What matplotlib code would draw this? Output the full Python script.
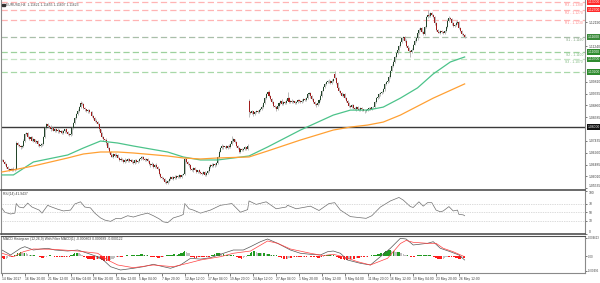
import numpy as np
import matplotlib.pyplot as plt
from matplotlib.patches import Rectangle

plt.rcParams['font.family'] = ['Liberation Sans', 'DejaVu Sans']

# EURUSD H4 closes, one per bar (14 Mar - 29 May 2017)
close = [
    1.0665, 1.0660, 1.0650, 1.0640, 1.0632, 1.0628, 1.0630, 1.0626, 1.0632, 1.0628,
    1.0735, 1.0728, 1.0722, 1.0718, 1.0725, 1.0745, 1.0770, 1.0775, 1.0760, 1.0752,
    1.0758, 1.0745, 1.0750, 1.0738, 1.0742, 1.0730, 1.0725, 1.0728, 1.0732, 1.0760,
    1.0795, 1.0810, 1.0805, 1.0800, 1.0790, 1.0795, 1.0785, 1.0792, 1.0782, 1.0788,
    1.0780, 1.0784, 1.0776, 1.0782, 1.0790, 1.0778, 1.0772, 1.0768, 1.0772, 1.0795,
    1.0815, 1.0835, 1.0850, 1.0865, 1.0880, 1.0895, 1.0890, 1.0875, 1.0870, 1.0862,
    1.0866, 1.0858, 1.0860, 1.0845, 1.0835, 1.0825, 1.0818, 1.0812, 1.0790, 1.0775,
    1.0760, 1.0750, 1.0748, 1.0735, 1.0715, 1.0700, 1.0685, 1.0680, 1.0690, 1.0682,
    1.0688, 1.0676, 1.0668, 1.0672, 1.0666, 1.0660, 1.0668, 1.0662, 1.0670, 1.0664,
    1.0668, 1.0660, 1.0655, 1.0665, 1.0658, 1.0664, 1.0670, 1.0676, 1.0680, 1.0670,
    1.0665, 1.0672, 1.0662, 1.0650, 1.0645, 1.0652, 1.0640, 1.0648, 1.0638, 1.0630,
    1.0610, 1.0600, 1.0595, 1.0590, 1.0580, 1.0575, 1.0582, 1.0590, 1.0598, 1.0592,
    1.0600, 1.0595, 1.0602, 1.0598, 1.0605, 1.0600, 1.0608, 1.0610, 1.0670, 1.0660,
    1.0650, 1.0645, 1.0630, 1.0625, 1.0635, 1.0628, 1.0620, 1.0625, 1.0618, 1.0615,
    1.0612, 1.0618, 1.0608, 1.0615, 1.0622, 1.0640, 1.0648, 1.0642, 1.0650, 1.0645,
    1.0655, 1.0680, 1.0700, 1.0715, 1.0725, 1.0718, 1.0722, 1.0716, 1.0725, 1.0720,
    1.0730, 1.0745, 1.0750, 1.0738, 1.0722, 1.0715, 1.0700, 1.0710, 1.0705, 1.0712,
    1.0718, 1.0710, 1.0725, 1.0860, 1.0855, 1.0862, 1.0850, 1.0858, 1.0865, 1.0860,
    1.0868, 1.0872, 1.0880, 1.0895, 1.0915, 1.0930, 1.0940, 1.0925, 1.0912, 1.0900,
    1.0885, 1.0880, 1.0870, 1.0885, 1.0895, 1.0905, 1.0890, 1.0900, 1.0895, 1.0905,
    1.0915, 1.0900, 1.0905, 1.0898, 1.0902, 1.0895, 1.0900, 1.0908, 1.0903, 1.0898,
    1.0905, 1.0912, 1.0908, 1.0915, 1.0930, 1.0935, 1.0922, 1.0912, 1.0900, 1.0890,
    1.0886, 1.0895, 1.0908, 1.0925, 1.0945, 1.0960, 1.0972, 1.0978, 1.0985, 1.0982,
    1.0975, 1.0985, 1.0990, 1.0995, 1.0975, 1.0955, 1.0945, 1.0935, 1.0925, 1.0930,
    1.0915, 1.0905, 1.0895, 1.0885, 1.0880, 1.0888, 1.0875, 1.0870, 1.0880, 1.0872,
    1.0868, 1.0876, 1.0870, 1.0865, 1.0862, 1.0868, 1.0870, 1.0875, 1.0872, 1.0878,
    1.0880, 1.0900, 1.0915, 1.0920, 1.0930, 1.0935, 1.0940, 1.0950, 1.0970, 1.0978,
    1.0985, 1.1000, 1.1025, 1.1045, 1.1060, 1.1080, 1.1095, 1.1110, 1.1125, 1.1140,
    1.1155, 1.1160, 1.1145, 1.1125, 1.1115, 1.1105, 1.1100, 1.1110, 1.1130, 1.1145,
    1.1155, 1.1175, 1.1190, 1.1195, 1.1180, 1.1172, 1.1200, 1.1240, 1.1250, 1.1245,
    1.1255, 1.1248, 1.1240, 1.1215, 1.1190, 1.1182, 1.1178, 1.1185, 1.1180, 1.1176,
    1.1185, 1.1200, 1.1225, 1.1238, 1.1232, 1.1215, 1.1205, 1.1210, 1.1218, 1.1222,
    1.1195, 1.1185, 1.1172, 1.1168, 1.1162,
]
first_open = 1.0668
gap_bars = [173, 233]          # weekend gaps
gap_opens = [1.0905, 1.1010]

# wick lengths beyond the body, in pips
wick_up = [
    4, 6, 3, 5, 4, 3, 5, 4, 6, 3, 8, 5, 4, 6, 3, 7, 5, 4, 6, 3,
    5, 4, 6, 3, 5, 4, 3, 6, 4, 5, 6, 4, 5, 3, 6, 4, 5, 3, 4, 6,
    3, 5, 4, 6, 3, 4, 5, 3, 6, 4, 5, 4, 6, 5, 4, 10, 6, 4, 5, 3,
    4, 6, 3, 5, 4, 3, 6, 4, 5, 3, 4, 5, 3, 6, 4, 5, 3, 4, 6, 3,
    5, 4, 3, 6, 4, 3, 5, 4, 3, 5, 4, 3, 5, 4, 6, 3, 4, 5, 3, 4,
    5, 3, 4, 6, 3, 5, 4, 3, 5, 4, 3, 5, 4, 3, 4, 5, 3, 4, 6, 3,
    4, 5, 3, 4, 5, 3, 4, 6, 8, 5, 4, 3, 5, 4, 3, 5, 4, 3, 4, 5,
    3, 4, 5, 3, 4, 6, 3, 5, 4, 3, 5, 4, 6, 3, 5, 4, 3, 5, 4, 6,
    4, 20, 5, 3, 4, 5, 3, 4, 5, 3, 4, 3, 5, 5, 4, 6, 3, 5, 4, 3,
    5, 4, 6, 5, 6, 5, 4, 6, 3, 5, 4, 3, 5, 4, 6, 3, 5, 4, 3, 5,
    25, 4, 3, 5, 4, 3, 5, 4, 3, 4, 5, 3, 4, 6, 5, 4, 3, 5, 4, 3,
    4, 5, 3, 6, 4, 5, 4, 6, 3, 5, 4, 5, 6, 14, 5, 4, 6, 3, 5, 4,
    5, 3, 4, 6, 3, 5, 4, 3, 5, 4, 3, 5, 4, 3, 4, 5, 3, 4, 5, 3,
    4, 5, 3, 6, 4, 5, 3, 6, 5, 4, 5, 6, 4, 5, 6, 5, 4, 6, 5, 4,
    6, 5, 4, 6, 5, 4, 3, 5, 4, 6, 5, 4, 6, 5, 4, 3, 6, 5, 18, 6,
    5, 4, 6, 3, 5, 4, 3, 5, 4, 3, 5, 4, 8, 5, 4, 3, 5, 4, 6, 5,
    4, 5, 3, 4, 3,
]
wick_dn = [
    4, 3, 5, 4, 6, 5, 3, 4, 5, 4, 3, 5, 4, 6, 3, 4, 5, 3, 4, 6,
    4, 3, 5, 4, 3, 6, 4, 5, 3, 4, 3, 5, 4, 3, 5, 4, 3, 6, 4, 5,
    4, 3, 5, 4, 6, 3, 4, 5, 3, 4, 3, 4, 5, 3, 4, 6, 3, 4, 5, 4,
    5, 3, 4, 6, 3, 5, 4, 3, 5, 4, 3, 5, 4, 6, 5, 4, 6, 3, 4, 5,
    4, 3, 5, 4, 3, 6, 4, 3, 5, 4, 3, 5, 4, 6, 3, 4, 5, 3, 4, 5,
    4, 3, 5, 4, 6, 3, 4, 5, 3, 4, 5, 4, 6, 5, 4, 6, 3, 4, 5, 3,
    4, 3, 5, 4, 3, 5, 4, 3, 4, 5, 4, 5, 3, 4, 6, 3, 5, 4, 3, 5,
    4, 3, 5, 4, 3, 4, 5, 3, 4, 5, 3, 4, 5, 3, 4, 5, 3, 4, 5, 3,
    4, 3, 5, 4, 3, 5, 4, 6, 3, 4, 5, 4, 3, 20, 5, 4, 6, 3, 4, 5,
    3, 4, 5, 3, 4, 5, 3, 4, 5, 4, 5, 4, 6, 3, 4, 5, 3, 4, 5, 4,
    3, 4, 5, 3, 4, 5, 3, 4, 5, 3, 4, 5, 3, 4, 5, 3, 6, 4, 5, 3,
    6, 4, 3, 5, 4, 3, 5, 4, 3, 5, 4, 3, 5, 4, 5, 6, 4, 5, 3, 4,
    5, 4, 3, 6, 4, 5, 3, 4, 5, 4, 3, 4, 5, 3, 8, 4, 5, 3, 4, 5,
    4, 3, 5, 4, 3, 5, 4, 3, 5, 4, 3, 4, 5, 3, 4, 5, 3, 4, 5, 3,
    4, 5, 3, 6, 5, 4, 20, 5, 4, 3, 4, 5, 3, 6, 4, 5, 3, 4, 5, 3,
    4, 5, 3, 6, 4, 5, 3, 4, 5, 3, 4, 3, 5, 4, 3, 5, 4, 3, 5, 4,
    3, 5, 4, 5, 4,
]

# moving averages read at selected bars
green_bars = [0, 8, 22, 46, 57, 69, 81, 92, 116, 127, 139, 151, 173, 186, 209, 232,
              244, 256, 267, 279, 291, 302, 314, 324]
ma_green = [1.0607, 1.0607, 1.0659, 1.0687, 1.0715, 1.0743, 1.0735, 1.0723, 1.0699,
            1.0679, 1.0667, 1.0667, 1.0683, 1.0719, 1.0787, 1.0847, 1.0867, 1.0867,
            1.0879, 1.0915, 1.0956, 1.1012, 1.1060, 1.1080]
orange_bars = [0, 8, 22, 46, 57, 69, 81, 92, 116, 127, 139, 151, 173, 186, 209, 232,
               244, 256, 267, 279, 302, 324]
ma_orange = [1.0619, 1.0627, 1.0643, 1.0675, 1.0691, 1.0699, 1.0699, 1.0695, 1.0683,
             1.0675, 1.0671, 1.0675, 1.0679, 1.0703, 1.0747, 1.0787, 1.0799, 1.0807,
             1.0819, 1.0847, 1.0915, 1.0972]

# pivot levels
level_names = ['R3', 'R2', 'R1', 'S1', 'S2', 'S3']
level_prices = [1.1300, 1.1270, 1.1230, 1.1160, 1.1100, 1.1070]
extra_level = 1.1020
black_level = 1.0800

main_ticks = [1.12190, 1.11240, 1.09810, 1.09335, 1.08860, 1.08385, 1.07435,
              1.06960, 1.06485, 1.06010, 1.05535]

# RSI(14)
rsi_bars = [0, 2, 6, 9, 10, 12, 15, 18, 21, 26, 28, 32, 34, 39, 43, 48, 51, 55, 58, 62,
            65, 69, 72, 76, 80, 83, 88, 92, 97, 102, 106, 110, 113, 116, 120, 125, 127,
            128, 131, 134, 139, 146, 153, 161, 167, 172, 173, 178, 185, 192, 199, 200,
            206, 216, 222, 229, 233, 237, 244, 255, 259, 265, 272, 278, 281, 286, 288,
            292, 295, 298, 301, 304, 307, 309, 313, 316, 319, 320, 323, 324]
rsi_vals = [59, 50, 46, 48, 70, 62, 60, 71, 62, 55, 48, 66, 63, 57, 53, 55, 69, 74, 62, 60,
            48, 37, 32, 29, 36, 35, 42, 39, 44, 48, 42, 35, 28, 26, 37, 42, 45,
            70, 58, 55, 48, 55, 66, 70, 50, 56, 76, 68, 74, 58, 62, 66,
            58, 64, 54, 70, 72, 55, 40, 36, 42, 62, 76, 84, 78, 63, 61,
            74, 64, 72, 72, 55, 51, 53, 63, 53, 55, 45, 44, 42]

# MACD main and signal lines
macd_bars = [0, 6, 13, 16, 22, 27, 32, 37, 46, 53, 60, 67, 71, 76, 83, 92, 99, 106, 113,
             118, 125, 132, 139, 146, 153, 162, 169, 174, 181, 186, 193, 202, 209, 216,
             223, 228, 232, 237, 242, 251, 258, 265, 272, 279, 283, 288, 298, 302, 307,
             314, 320, 324]
macd_vals = [0.00154, 0.00026, 0.00198, 0.00239, 0.00154, 0.0018, 0.00198, 0.00154,
             0.00128, 0.00154, 0.0007, -0.0002, -0.00103, -0.00275, -0.0036, -0.00316,
             -0.00275, -0.00213, -0.00275, -0.00316, -0.00231, -0.00059, -0.0008,
             -0.00044, 0.00044, 0.00154, 0.00154, 0.00239, 0.00368, 0.00437, 0.00326,
             0.00154, 0.0007, 0.00044, 0.00026, 0.0011, 0.00128, 0.0007, -0.00103,
             -0.00188, -0.00231, -0.00018, 0.00198, 0.00455, 0.00437, 0.00283, 0.00326,
             0.00368, 0.00198, 0.0011, 0.00026, -0.00103]
sig_bars = [0, 8, 15, 22, 36, 53, 67, 74, 81, 92, 106, 120, 130, 139, 153, 162, 174, 186,
            193, 202, 216, 225, 232, 239, 249, 258, 270, 279, 283, 288, 298, 304, 309,
            316, 324]
sig_vals = [0.0007, -0.0002, 0.0011, 0.0018, 0.00172, 0.00128, 0.0007, -0.00103,
            -0.00231, -0.003, -0.00231, -0.00275, -0.00188, -0.00103, -0.00018, 0.0007,
            0.00128, 0.00386, 0.00326, 0.0018, 0.0007, 0.0001, 0.00044, -0.0002,
            -0.00146, -0.00231, -0.00059, 0.0032, 0.0040, 0.00352, 0.00326, 0.00326,
            0.00198, 0.0011, -0.0002]
# histogram, one per bar, in units of 0.00017
hist = [
    -3, -4, -5, -4, -3, -2, -1, -1, 0, 1, 2, 4, 5, 6, 5, 4, 5, 4, 3, 2,
    2, 1, 1, 1, 0, 0, -1, -2, -3, -3, -2, -1, 0, 1, 1, 0, 0, -1, -1, -2,
    -2, -1, -2, -1, -1, -2, -1, -1, 1, 2, 3, 4, 5, 5, 4, 3, 2, -1, -2, -3,
    -4, -4, -5, -5, -6, -6, -5, -5, -4, -5, -6, -7, -8, -8, -7, -7, -6, -5, -4, -3,
    -2, -2, -1, -1, -1, 0, 0, 1, 1, 0, 0, 1, 1, 1, 1, 2, 2, 3, 3, 2,
    2, 1, 1, 0, -1, -1, -2, -2, -2, -3, -3, -2, -2, -1, 0, 1, 1, 2, 2, 2,
    3, 3, 2, 2, 3, 4, 5, 6, 7, 6, 5, 4, -1, -2, -2, -3, -3, -2, -2, -1,
    -1, -1, -1, -2, -1, -1, 0, 1, 2, 3, 4, 5, 5, 4, 3, 3, 2, 2, 2, 1,
    1, 1, 1, 0, -1, -2, -3, -3, -4, -3, -2, -1, 1, 2, 4, 6, 7, 7, 6, 5,
    5, 5, 4, 4, 4, 3, 3, 3, 2, 2, 2, 1, 1, 0, -1, -2, -3, -4, -5, -5,
    -4, -3, -3, -3, -2, -2, -2, -1, -1, -2, -2, -1, -1, -1, 0, 0, -1, -1, -2, -2,
    -2, -3, -3, -2, -2, -1, 1, 1, 2, 2, 2, 1, 1, 0, -1, -2, -3, -4, -4, -5,
    -6, -6, -6, -5, -5, -4, -4, -4, -3, -3, -3, -2, -2, -2, -2, -1, -1, 0, 0, 1,
    1, 2, 2, 3, 3, 4, 4, 5, 6, 7, 8, 9, 9, 8, 8, 7, 6, 6, 6, 5,
    4, 3, 2, 1, 1, 0, -1, -1, -1, -1, 0, 1, 1, 1, 2, 2, 2, 2, 1, 1,
    1, 0, -1, -2, -3, -4, -5, -5, -5, -4, -3, -2, -1, -1, 0, -1, -2, -2, -3, -3,
    -4, -4, -3, -3, -3,
]
hist_unit = 0.00017

date_bars = list(range(0, 321, 16))
date_labels = ['14 Mar 2017', '16 Mar 20:00', '21 Mar 12:00', '24 Mar 04:00', '28 Mar 20:00',
               '31 Mar 12:00', '5 Apr 04:00', '7 Apr 20:00', '12 Apr 12:00', '17 Apr 04:00',
               '19 Apr 20:00', '24 Apr 12:00', '27 Apr 04:00', '1 May 20:00', '4 May 12:00',
               '9 May 04:00', '11 May 20:00', '16 May 12:00', '19 May 04:00', '23 May 20:00',
               '26 May 12:00']

FS = 2.4
W, H = 600, 283


def px_box(x0, y0, x1, y1):
    return [x0 / W, 1 - y1 / H, (x1 - x0) / W, (y1 - y0) / H]


fig = plt.figure(figsize=(6, 2.83), dpi=100)
fig.patch.set_facecolor('white')
ax = fig.add_axes(px_box(1, 0, 585, 189.5))
ax_rsi = fig.add_axes(px_box(1, 190.5, 585, 234), sharex=ax)
ax_macd = fig.add_axes(px_box(1, 235.5, 585, 273), sharex=ax)

# --- candles
idx = np.arange(len(close))
c = np.array(close)
o = np.r_[first_open, c[:-1]]
for b, v in zip(gap_bars, gap_opens):
    o[b] = v
top = np.maximum(o, c)
bot = np.minimum(o, c)
hi = top + np.array(wick_up) * 1e-4
lo = bot - np.array(wick_dn) * 1e-4
ax.vlines(idx, lo, hi, color='#a9a9a9', lw=0.55, zorder=2)
body = np.maximum(top - bot, 0.00006)
ax.bar(idx, body, bottom=bot, width=0.72, linewidth=0, zorder=3,
       color=np.where(c >= o, '#23452a', '#a01c1c'))

ax.plot(green_bars, ma_green, color='#4cc38a', lw=0.9, zorder=4)
ax.plot(orange_bars, ma_orange, color='#ffa033', lw=0.9, zorder=4)

# --- pivot lines
line_cols = ['#ffb4b4', '#ffb4b4', '#ffb4b4', '#a9bfa9', '#9dd19d', '#c4e4c4']
text_cols = ['#ff8c8c', '#ff8c8c', '#ff8c8c', '#7fa07f', '#7fb87f', '#7fb87f']
for name, p, lc, tc in zip(level_names, level_prices, line_cols, text_cols):
    ax.axhline(p, color=lc, lw=0.9, ls=(0, (5, 2.5)), zorder=1)
    ax.text(0.9966, p - 0.0004, f'{name} - {p:.4f}', transform=ax.get_yaxis_transform(),
            ha='right', va='top', fontsize=FS, color=tc, zorder=6)
ax.axhline(extra_level, color='#a8d8a8', lw=0.9, ls=(0, (5, 2.5)), zorder=1)
ax.axhline(black_level, color='#3a3a3a', lw=1.0, zorder=1)

ax.set_xlim(-0.7, 408.3)
ax.set_ylim(1.05486, 1.13085)
ax.yaxis.tick_right()
ax.set_yticks(main_ticks)
ax.set_yticklabels([f'{t:.5f}' for t in main_ticks])
ax.get_yticklabels()[-1].set_va('bottom')

# boxed price labels on the axis
box_prices = [1.1300, 1.1270, 1.1160, 1.1100, 1.1070, extra_level, black_level]
box_cols = ['#ff2a2a', '#ff2a2a', '#3a8a3a', '#2e8b2e', '#2e8b2e', '#2e8b2e', '#111111']
for p, fc in zip(box_prices, box_cols):
    ax.text(1.004, p, f'{p:.5f}', transform=ax.get_yaxis_transform(), ha='left',
            va='center', fontsize=FS, color='white', clip_on=False, zorder=10,
            bbox=dict(boxstyle='square,pad=0.25', fc=fc, ec='none'))

# --- RSI
ax_rsi.plot(rsi_bars, rsi_vals, color='#6e6e6e', lw=0.5)
for lv in (70, 50, 30):
    ax_rsi.axhline(lv, color='#b8b8b8', lw=0.5, ls=(0, (1, 1.5)))
ax_rsi.set_ylim(0, 100)
ax_rsi.yaxis.tick_right()
ax_rsi.set_yticks([100, 70, 50, 30, 0])
ax_rsi.set_yticklabels(['100', '70', '50', '30', '0'])
ax_rsi.get_yticklabels()[0].set_va('top')
ax_rsi.get_yticklabels()[-1].set_va('bottom')
ax_rsi.text(0.003, 0.97, 'RSI(14) 41.9437', transform=ax_rsi.transAxes, va='top',
            fontsize=FS, color='#404040')

# --- MACD
h = np.array(hist) * hist_unit
prev = np.r_[0, h[:-1]]
hcols = np.where((h > 0) & (h >= prev), '#1f9a1f',
                 np.where((h < 0) & (h <= prev), '#ff1a1a', '#c0c0c0'))
ax_macd.bar(idx, h, width=0.85, color=hcols, linewidth=0)
ax_macd.plot(macd_bars, macd_vals, color='#555555', lw=0.5)
ax_macd.plot(sig_bars, sig_vals, color='#ff4040', lw=0.5)
ax_macd.set_ylim(-0.00437, 0.00527)
ax_macd.yaxis.tick_right()
ax_macd.set_yticks([0.0047, 0.0, -0.0038])
ax_macd.set_yticklabels(['0.004623', '0.00', '-0.00495'])
ax_macd.text(0.003, 0.95, 'MACD Histogram (12,26,9) With Filter MACD(1) -0.000803 0.000689 -0.000122',
             transform=ax_macd.transAxes, va='top', fontsize=FS, color='#404040')

ax_macd.set_xticks(date_bars)
ax_macd.set_xticklabels(date_labels, ha='left')

for a in (ax, ax_rsi, ax_macd):
    a.set_facecolor('white')
    a.tick_params(axis='y', labelsize=FS, length=1.5, width=0.5, pad=1,
                  colors='#404040', right=True, left=False)
    a.spines['top'].set_visible(False)
    for s in ('left', 'right'):
        a.spines[s].set_color('#8a8a8a')
        a.spines[s].set_linewidth(0.8)
    a.spines['bottom'].set_color('#505050')
    a.spines['bottom'].set_linewidth(1.2)
ax_macd.tick_params(axis='y', labelsize=2.0, pad=0.8)
ax.tick_params(axis='x', bottom=False, labelbottom=False)
ax_rsi.tick_params(axis='x', bottom=False, labelbottom=False)
ax_macd.tick_params(axis='x', labelsize=FS, length=2, width=0.5, pad=1.2, colors='#404040')
ax_macd.spines['bottom'].set_color('#8a8a8a')
ax_macd.spines['bottom'].set_linewidth(0.8)
ax_macd.spines['top'].set_visible(True)
ax_macd.spines['top'].set_color('#505050')

# chart title
fig.add_artist(Rectangle((2 / W, 1 - 6 / H), 2.5 / W, 2.5 / H, transform=fig.transFigure,
                         color='#333333'))
fig.text(6 / W, 1 - 4.5 / H, 'EURUSD,H4  1.11621 1.11655 1.11607 1.11623',
         fontsize=FS, color='#505050', va='center')

fig.savefig('out.png', dpi=100, facecolor='white')
